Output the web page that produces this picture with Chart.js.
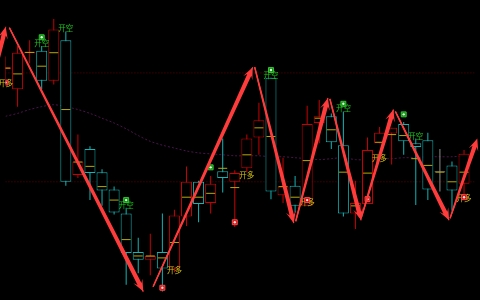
<!DOCTYPE html>
<html>
<head>
<meta charset="utf-8">
<script src="https://cdn.jsdelivr.net/npm/chart.js"></script>
<style>
html, body { margin: 0; padding: 0; background: #000; }
#wrap { width: 480px; height: 300px; position: relative; }
</style>
</head>
<body>
<div id="wrap"><canvas id="chart"></canvas></div>
<script>
// candles (price units, 0 = bottom edge, 300 = top edge)
const opens  = [234,213,250.5,253,222,264,124,151,127,109,84,44,36,44,27,81,117,95,128,117,131,163,225,103,113,92,178,185,155,84,94,157,167,177,157,160,127.5,134,115];
const closes = [236,251,252,222,275,117,138,126,108,85,43,36,40,27,82,117,94,115,121,126,162,181,107,112,92,177,185,158,84,95,150,168,173,159,153,109,127.5,108,146];
const highs  = [247,258,264,258,286,273,166,154,130,112,90,59,63,84,88,133,118,123,162,129,166,199,225,142,123,196,202,188,190,118,163,174,173,179,162,168,151,138,150];
const lows   = [222,195,240,213,218,113,121,98,92,83,10,22,20,3,23,71,75,84,106,70,127,145,99,95,85,92,157,151,81,68,94,157,135,145,93,98,107,87,100];
const avgs   = [235,229,251.3,237,251,192,137.5,133,112,98,57,40,40,38,54,101,101,105,131,111,145,173,164,112,101,139,183,171,127,92,126,158,166,165,141,134,127,117,127];

// moving average (dashed purple)
const maValues = [185,188,192,195,197,195,192,188,183,178,172,165,159,155,152,149,147,146,145,144,144,144,143,143,142,141,140,141,142,140,140,141,141,142,142,143,143,143,144];

// dotted levels
const levels = [230, 117];

// zigzag arrows
const zigFromIdx   = [-2.5, 0.32, 12.23, 20.65, 24.05, 26.88, 29.47, 32.31, 36.84];
const zigFromPrice = [150, 277, 8, 236, 76, 203, 79, 190, 79];
const zigToIdx     = [0.02, 11.42, 20.49, 23.89, 26.72, 29.47, 32.15, 36.76, 39.1];
const zigToPrice   = [278, 3, 236, 74, 204, 77, 192, 77, 162];

// signals
const shortText = '开空';
const shortIdx   = [3, 5, 10, 22, 28, 34];
const shortPrice = [261, 277, 93, 228, 193, 164];
const shortMarkIdx   = [3, 10, 17, 22, 28, 33];
const shortMarkPrice = [267, 98, 132, 233, 198, 187];

const longText = '开多';
const longIdx   = [0, 14, 20, 25, 31, 38];
const longPrice = [219, 25, 124, 96, 142, 100];
const longMarkIdx   = [0, 13, 19, 25, 30, 38];
const longMarkPrice = [220, 7, 75, 98, 99, 101];

const UP = '#c80000', DOWN = '#14b4b4', FLAT = '#8c8c8c';
const candleColor = opens.map((o, i) => closes[i] > o ? UP : (closes[i] < o ? DOWN : FLAT));

const bodies = opens.map((o, i) => {
  let lo = Math.min(o, closes[i]), hi = Math.max(o, closes[i]);
  if (hi - lo < 1) { lo -= 0.5; hi += 0.5; }
  return {x: i, y: [lo, hi]};
});
const wicks = opens.map((o, i) => ({x: i, y: [lows[i], highs[i]]}));
const mids = avgs.map((v, i) => ({x: i, y: v}));

const arrowLine = [];
zigFromIdx.forEach((x, k) => {
  arrowLine.push({x: x, y: zigFromPrice[k]});
  arrowLine.push({x: zigToIdx[k], y: zigToPrice[k]});
  arrowLine.push({x: zigToIdx[k], y: null});
});

const pts = (xs, ys) => xs.map((x, i) => ({x: x, y: ys[i]}));

const signalPlugin = {
  id: 'signals',
  afterDatasetDraw(chart, args) {
    if (chart.data.datasets[args.index].label !== 'avg') return;
    const {ctx, scales: {x, y}} = chart;
    ctx.save();
    ctx.font = '7.5px "Noto Sans CJK SC"';
    ctx.textAlign = 'center';
    ctx.textBaseline = 'middle';
    ctx.fillStyle = '#18c818';
    shortIdx.forEach((v, i) => ctx.fillText(shortText, x.getPixelForValue(v), y.getPixelForValue(shortPrice[i])));
    ctx.fillStyle = '#d2c010';
    longIdx.forEach((v, i) => ctx.fillText(longText, x.getPixelForValue(v), y.getPixelForValue(longPrice[i])));
    ctx.restore();
  },
  afterDatasetsDraw(chart) {
    const {ctx, scales: {x, y}} = chart;
    ctx.save();
    ctx.fillStyle = '#ff3c3c';
    for (let k = 0; k < zigFromIdx.length; k++) {
      const x0 = x.getPixelForValue(zigFromIdx[k]), y0 = y.getPixelForValue(zigFromPrice[k]);
      const x1 = x.getPixelForValue(zigToIdx[k]), y1 = y.getPixelForValue(zigToPrice[k]);
      const len = Math.hypot(x1 - x0, y1 - y0);
      const dx = (x1 - x0) / len, dy = (y1 - y0) / len;
      const nx = -dy, ny = dx;
      const H = 12, hw = 5, w0 = 0.7, w1 = 2.2;
      const bx = x1 - dx * H * 0.7, by = y1 - dy * H * 0.7;
      const cx = x1 - dx * H, cy = y1 - dy * H;
      ctx.beginPath();
      ctx.moveTo(x0 + nx * w0, y0 + ny * w0);
      ctx.lineTo(bx + nx * w1, by + ny * w1);
      ctx.lineTo(cx + nx * hw, cy + ny * hw);
      ctx.lineTo(x1, y1);
      ctx.lineTo(cx - nx * hw, cy - ny * hw);
      ctx.lineTo(bx - nx * w1, by - ny * w1);
      ctx.lineTo(x0 - nx * w0, y0 - ny * w0);
      ctx.closePath();
      ctx.fill();
    }
    ctx.restore();
  }
};

const ctx = document.getElementById('chart');
new Chart(ctx, {
  type: 'bar',
  data: {
    datasets: [
      {
        type: 'line', label: 'zigzag', data: arrowLine, order: 0,
        borderColor: '#ff3c3c', borderWidth: 1.2, pointRadius: 0, spanGaps: false
      },
      {
        type: 'line', label: 'longDot', data: pts(longMarkIdx, longMarkPrice), order: 1, showLine: false,
        pointStyle: 'circle', pointRadius: 1.2, pointBackgroundColor: '#ffe0e0', pointBorderWidth: 0
      },
      {
        type: 'line', label: 'shortDot', data: pts(shortMarkIdx, shortMarkPrice), order: 1, showLine: false,
        pointStyle: 'circle', pointRadius: 1.2, pointBackgroundColor: '#e0ffe0', pointBorderWidth: 0
      },
      {
        type: 'line', label: 'longMark', data: pts(longMarkIdx, longMarkPrice), order: 2, showLine: false,
        pointStyle: 'rect', pointRadius: 3.5, pointBackgroundColor: '#d01010', pointBorderColor: '#ff4848', pointBorderWidth: 1
      },
      {
        type: 'line', label: 'shortMark', data: pts(shortMarkIdx, shortMarkPrice), order: 2, showLine: false,
        pointStyle: 'rect', pointRadius: 3.5, pointBackgroundColor: '#108c10', pointBorderColor: '#30c830', pointBorderWidth: 1
      },
      {
        type: 'line', label: 'avg', data: mids, order: 3, showLine: false,
        pointStyle: 'line', pointRadius: 4.5, pointBorderColor: '#b8a800', pointBorderWidth: 1
      },
      {
        label: 'body', data: bodies, order: 4, grouped: false,
        barThickness: 11, borderWidth: 1, borderSkipped: false, inflateAmount: 0,
        borderColor: candleColor, backgroundColor: '#000'
      },
      {
        label: 'wick', data: wicks, order: 5, grouped: false,
        barThickness: 1, borderWidth: 0, inflateAmount: 0,
        backgroundColor: candleColor
      },
      {
        type: 'line', label: 'ma', data: maValues.map((v, i) => ({x: i, y: v})), order: 6,
        borderColor: '#4a144a', borderWidth: 1, borderDash: [2, 2], pointRadius: 0, tension: 0.3
      },
      ...levels.map(v => ({
        type: 'line', label: 'level', data: [{x: -1, y: v}, {x: 40, y: v}], order: 7,
        borderColor: '#640000', borderWidth: 1, borderDash: [1, 2], pointRadius: 0
      }))
    ]
  },
  options: {
    responsive: true,
    maintainAspectRatio: false,
    animation: false,
    layout: { padding: 0 },
    scales: {
      x: { type: 'linear', min: 0, max: 480 / 12.35, offset: false, display: false },
      y: { min: 0, max: 300, display: false }
    },
    plugins: {
      legend: { display: false },
      tooltip: { enabled: false }
    }
  },
  plugins: [signalPlugin]
});
</script>
</body>
</html>
